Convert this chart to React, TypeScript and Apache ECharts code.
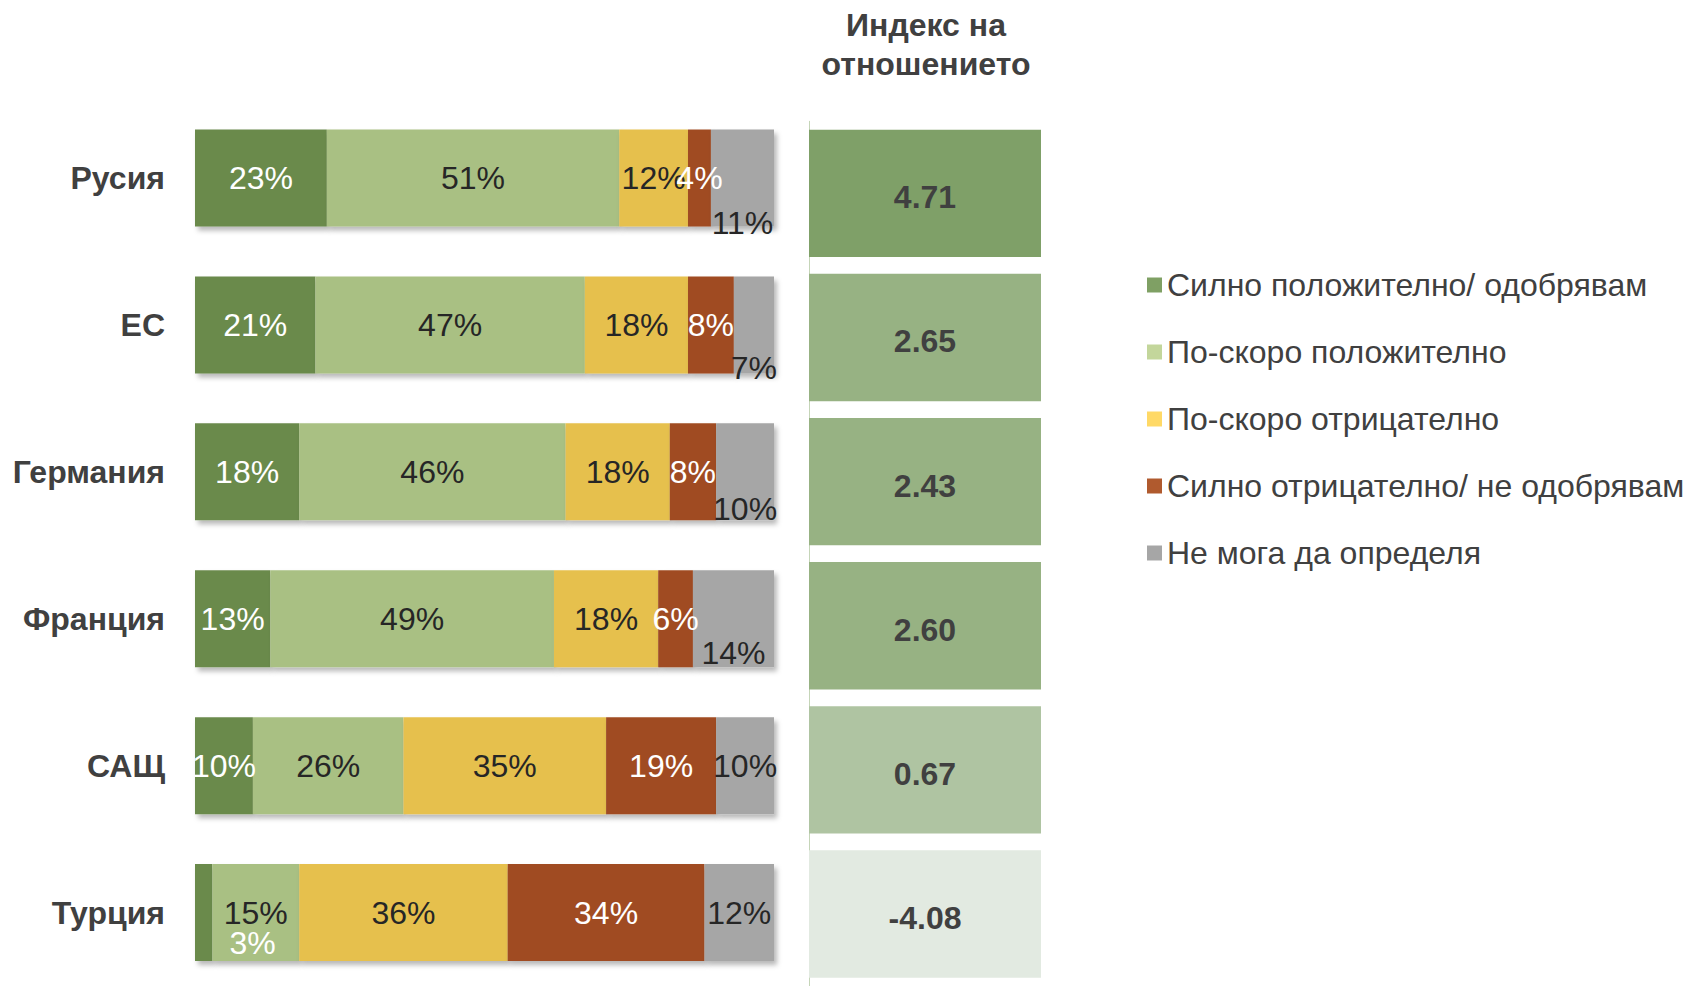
import React, { useEffect, useRef } from "react";
import * as echarts from "echarts";

const countries = ["Русия", "ЕС", "Германия", "Франция", "САЩ", "Турция"];
const seriesNames = [
  "Силно положително/ одобрявам",
  "По-скоро положително",
  "По-скоро отрицателно",
  "Силно отрицателно/ не одобрявам",
  "Не мога да определя",
];
const stronglyPositive = [23, 21, 18, 13, 10, 3];
const ratherPositive = [51, 47, 46, 49, 26, 15];
const ratherNegative = [12, 18, 18, 18, 35, 36];
const stronglyNegative = [4, 8, 8, 6, 19, 34];
const cannotSay = [11, 7, 10, 14, 10, 12];
const attitudeIndex = [4.71, 2.65, 2.43, 2.6, 0.67, -4.08];
const indexTitle = "Индекс на\nотношението";

// styles
const barColors = ["#6B8A4C", "#A9C083", "#E6C04D", "#A04C24", "#A6A6A6"];
const legendColors = ["#7FA064", "#C3D69B", "#FFD966", "#B05A2E", "#A6A6A6"];
const labelColors = ["#FFFFFF", "#262626", "#262626", "#FFFFFF", "#262626"];
const indexColors = ["#7FA068", "#97B283", "#97B283", "#97B283", "#AFC4A2", "#E2EAE1"];
// label offsets for labels that sit outside their segment
const grayLabelOffsets = [[0, 45], [0, 43], [0, 37], [0, 34], [0, 0], [0, 0]];
const firstLabelOffsets = [[0, 0], [0, 0], [0, 0], [0, 0], [0, 0], [49, 30]];

const FONT = "'Liberation Sans', Arial, sans-serif";
const FS = 32;

export default function App() {
  const ref = useRef<HTMLDivElement>(null);
  useEffect(() => {
    if (!ref.current) return;
    const chart = echarts.init(ref.current, undefined, { renderer: "svg" });
    const raw = [stronglyPositive, ratherPositive, ratherNegative, stronglyNegative, cannotSay];
    const totals = countries.map((_, i) => raw.reduce((s, arr) => s + arr[i], 0));

    const barSeries = raw.map((arr, si) => ({
      type: "bar",
      name: seriesNames[si],
      stack: "total",
      xAxisIndex: 0,
      yAxisIndex: 0,
      barWidth: 97,
      itemStyle: {
        color: barColors[si],
        shadowBlur: 5,
        shadowOffsetX: 3,
        shadowOffsetY: 4,
        shadowColor: "rgba(0,0,0,0.28)",
      },
      label: {
        show: true,
        position: "inside",
        fontSize: FS,
        fontFamily: FONT,
        color: labelColors[si],
        formatter: (p: any) => arr[p.dataIndex] + "%",
      },
      data: arr.map((v, i) => {
        const item: any = { value: (v / totals[i]) * 100 };
        const off = si === 4 ? grayLabelOffsets[i] : si === 0 ? firstLabelOffsets[i] : null;
        if (off && (off[0] !== 0 || off[1] !== 0)) {
          item.label = { offset: off };
        }
        return item;
      }),
    }));

    const indexSeries = {
      type: "custom",
      xAxisIndex: 1,
      yAxisIndex: 1,
      encode: { x: 0, y: 1 },
      data: attitudeIndex.map((v, i) => [0, i, v]),
      renderItem: (params: any, api: any) => {
        const idx = api.value(1);
        const val = api.value(2);
        const pt = api.coord([0, idx]);
        const band = api.size([0, 1])[1];
        const cs = params.coordSys;
        const pad = band * 0.058;
        return {
          type: "rect",
          shape: { x: cs.x, y: pt[1] - band / 2 + pad, width: cs.width, height: band - 2 * pad },
          style: { fill: indexColors[idx] },
          textContent: {
            style: {
              text: Number(val).toFixed(2),
              fontSize: FS,
              fontWeight: "bold",
              fontFamily: FONT,
              fill: "#404040",
            },
          },
          textConfig: { position: "inside", offset: [0, 4] },
        };
      },
    };

    chart.setOption({
      animation: false,
      backgroundColor: "#ffffff",
      title: {
        text: indexTitle,
        left: 921,
        top: 0,
        textAlign: "center",
        textStyle: {
          fontSize: FS,
          fontWeight: "bold",
          fontFamily: FONT,
          color: "#404040",
          lineHeight: 39,
        },
      },
      legend: {
        orient: "vertical",
        left: 1147,
        top: 267,
        padding: 0,
        itemWidth: 15,
        itemHeight: 15,
        itemGap: 31,
        icon: "rect",
        textStyle: { fontSize: FS, fontFamily: FONT, color: "#404040", lineHeight: 36 },
        data: seriesNames.map((n, i) => ({ name: n, itemStyle: { color: legendColors[i] } })),
      },
      grid: [
        { left: 195, top: 104.5, width: 579, height: 888, containLabel: false },
        { left: 809, top: 121.3, width: 232, height: 871, containLabel: false },
      ],
      xAxis: [
        { type: "value", gridIndex: 0, min: 0, max: 100, show: false },
        { type: "value", gridIndex: 1, min: 0, max: 1, show: false },
      ],
      yAxis: [
        {
          type: "category",
          gridIndex: 0,
          data: countries,
          inverse: true,
          axisLine: { show: false },
          axisTick: { show: false },
          axisLabel: {
            margin: 30,
            fontSize: FS,
            fontWeight: "bold",
            fontFamily: FONT,
            color: "#404040",
          },
        },
        {
          type: "category",
          gridIndex: 1,
          data: countries,
          inverse: true,
          axisLine: { show: true, lineStyle: { color: "#C5D5B8", width: 1 } },
          axisTick: { show: false },
          axisLabel: { show: false },
        },
      ],
      series: [...barSeries, indexSeries],
    });
    return () => chart.dispose();
  }, []);
  return (
    <div
      ref={ref}
      style={{ position: "fixed", left: 0, top: 0, width: 1691, height: 986 }}
    />
  );
}
